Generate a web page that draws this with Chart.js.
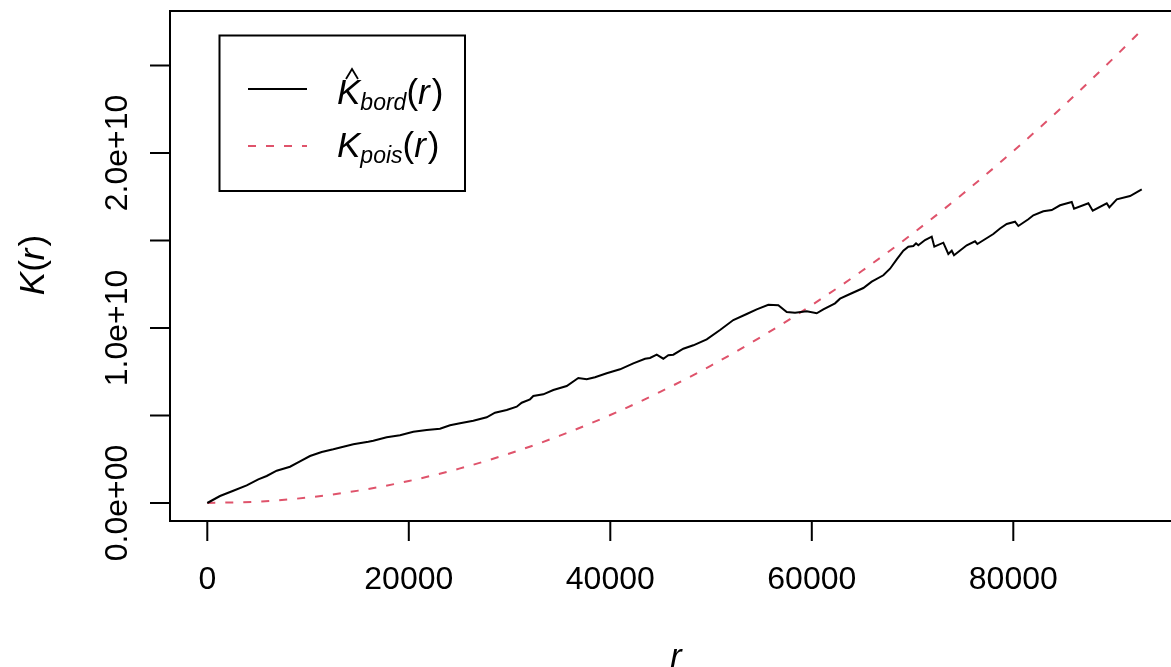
<!DOCTYPE html>
<html>
<head>
<meta charset="utf-8">
<script src="https://cdn.jsdelivr.net/npm/chart.js@4/dist/chart.umd.min.js"></script>
<style>
  body { margin: 0; overflow: hidden; background: #fff; width: 1171px; height: 667px; }
  canvas { display: block; }
</style>
</head>
<body>
<canvas id="c" width="1190" height="667"></canvas>
<script>
// K-hat border estimate (r, K in units of 1e8)
const rBord = [0,1261,2581,3911,5062,5896,6889,8209,9201,10194,
  11355,12507,13499,14492,15981,16477,17807,19128,20448,21778,
  23098,24091,25083,26403,27733,28557,29718,30711,31207,32031,
  32359,33351,34344,35674,36825,37659,38483,39644,40965,42285,
  43446,43942,44607,45263,45759,46255,47248,48240,49571,50891,
  52211,53541,54533,55685,56677,57511,58335,59496,60489,61144,
  62306,62802,63795,65115,65948,67100,67765,68430,69085,69581,
  70078,70346,70574,71239,71904,72162,73055,73552,73889,74118,
  75378,76202,76430,78018,78683,79348,80172,80500,81492,81989,
  82981,83815,84639,85801,86029,87448,87885,89274,89533,90268,
  91587,92749];
const kBord = [0,4.0,7.03,10.11,13.54,15.43,18.46,20.74,23.83,26.86,
  29.14,30.68,32.17,33.54,35.03,35.60,37.54,38.68,40.74,41.71,
  42.46,44.40,45.54,47.03,48.97,51.60,53.14,55.03,57.31,59.25,
  61.14,62.11,64.57,66.85,71.43,70.68,71.83,74.11,76.40,79.82,
  82.45,82.85,84.74,82.45,84.40,84.74,88.17,90.11,93.54,98.85,
  104.57,108.0,110.68,113.31,112.97,109.14,108.74,109.54,108.40,110.68,
  114.11,116.74,119.42,122.85,126.45,130.11,133.88,139.25,144.17,146.45,
  146.85,148.39,147.25,150.28,152.17,146.45,148.74,142.28,144.17,141.54,
  147.25,149.54,148.0,153.71,156.85,159.42,160.74,158.28,162.11,164.40,
  166.68,167.42,170.11,171.99,168.17,171.25,167.02,171.25,168.96,173.54,
  175.42,179.25];

// Poisson reference curve (units of 1e8)
const rPois = [0,5000,10000,15000,20000,25000,30000,35000,40000,45000,
  50000,55000,60000,65000,70000,75000,80000,85000,90000,92749];
const kPois = [0,0.785,3.14,7.07,12.57,19.63,28.27,38.48,50.27,63.62,
  78.54,95.03,113.1,132.7,153.9,176.7,201.1,227.0,254.5,270.3];

const xTicks = [0,20000,40000,60000,80000];
const xTickLabels = ['0','20000','40000','60000','80000'];
const yTicks = [0,5e9,1e10,1.5e10,2e10,2.5e10];
const yTickLabels = ['0.0e+00','','1.0e+10','','2.0e+10',''];

const RED = '#DF536B';
const FONT = '"Liberation Sans", Arial, sans-serif';

function toPoints(xs, ys) {
  return xs.map((x, i) => ({x: x, y: ys[i] * 1e8}));
}

// draws a run of text pieces (italic / sub) starting at x, returns end x
function drawPieces(ctx, x, y, pieces) {
  pieces.forEach(p => {
    ctx.font = (p.it ? 'italic ' : '') + p.size + 'px ' + FONT;
    ctx.fillText(p.t, x, y + (p.dy || 0));
    x += ctx.measureText(p.t).width + (p.gap || 0);
  });
  return x;
}

function piecesWidth(ctx, pieces) {
  let w = 0;
  pieces.forEach(p => {
    ctx.font = (p.it ? 'italic ' : '') + p.size + 'px ' + FONT;
    w += ctx.measureText(p.t).width + (p.gap || 0);
  });
  return w;
}

const baseAxes = {
  id: 'baseAxes',
  afterDraw(chart) {
    const ctx = chart.ctx;
    const a = chart.chartArea;
    const xs = chart.scales.x, ys = chart.scales.y;
    ctx.save();
    ctx.strokeStyle = '#000';
    ctx.fillStyle = '#000';
    ctx.lineWidth = 2;
    ctx.setLineDash([]);
    ctx.strokeRect(a.left, a.top, a.right - a.left, a.bottom - a.top);

    // x axis
    ctx.beginPath();
    ctx.moveTo(xs.getPixelForValue(xTicks[0]), a.bottom);
    ctx.lineTo(xs.getPixelForValue(xTicks[xTicks.length - 1]), a.bottom);
    xTicks.forEach(v => {
      const px = xs.getPixelForValue(v);
      ctx.moveTo(px, a.bottom);
      ctx.lineTo(px, a.bottom + 20);
    });
    ctx.stroke();
    ctx.font = '32px ' + FONT;
    ctx.textAlign = 'center';
    ctx.textBaseline = 'middle';
    xTicks.forEach((v, i) => {
      ctx.fillText(xTickLabels[i], xs.getPixelForValue(v), a.bottom + 59);
    });

    // y axis
    ctx.beginPath();
    ctx.moveTo(a.left, ys.getPixelForValue(yTicks[0]));
    ctx.lineTo(a.left, ys.getPixelForValue(yTicks[yTicks.length - 1]));
    yTicks.forEach(v => {
      const py = ys.getPixelForValue(v);
      ctx.moveTo(a.left - 20, py);
      ctx.lineTo(a.left, py);
    });
    ctx.stroke();
    yTicks.forEach((v, i) => {
      if (!yTickLabels[i]) return;
      ctx.save();
      ctx.translate(a.left - 52, ys.getPixelForValue(v));
      ctx.rotate(-Math.PI / 2);
      ctx.fillText(yTickLabels[i], 0, 0);
      ctx.restore();
    });

    // axis titles
    ctx.textAlign = 'left';
    ctx.textBaseline = 'alphabetic';
    const xt = [{t: 'r', it: true, size: 34}];
    drawPieces(ctx, 676 - piecesWidth(ctx, xt) / 2, 667, xt);
    const yt = [{t: 'K', it: true, size: 35}, {t: '(', size: 35}, {t: 'r', it: true, size: 35, gap: 2}, {t: ')', size: 35}];
    ctx.save();
    ctx.translate(44, 265);
    ctx.rotate(-Math.PI / 2);
    drawPieces(ctx, -piecesWidth(ctx, yt) / 2, 0, yt);
    ctx.restore();

    // legend
    ctx.lineWidth = 2;
    ctx.strokeRect(219.5, 35.5, 245.5, 155.5);
    ctx.beginPath();
    ctx.moveTo(248, 89);
    ctx.lineTo(307, 89);
    ctx.stroke();
    ctx.strokeStyle = RED;
    ctx.setLineDash([8, 10]);
    ctx.beginPath();
    ctx.moveTo(248, 146);
    ctx.lineTo(307, 146);
    ctx.stroke();
    ctx.setLineDash([]);
    ctx.strokeStyle = '#000';

    drawPieces(ctx, 337, 104, [
      {t: 'K', it: true, size: 35},
      {t: 'bord', it: true, size: 23, dy: 6},
      {t: '(', size: 35},
      {t: 'r', it: true, size: 35, gap: 2},
      {t: ')', size: 35}
    ]);
    // hat over K
    ctx.lineWidth = 1.8;
    ctx.beginPath();
    ctx.moveTo(346, 79);
    ctx.lineTo(352, 69);
    ctx.lineTo(358, 79);
    ctx.stroke();

    drawPieces(ctx, 337, 157, [
      {t: 'K', it: true, size: 35},
      {t: 'pois', it: true, size: 23, dy: 6},
      {t: '(', size: 35},
      {t: 'r', it: true, size: 35, gap: 2},
      {t: ')', size: 35}
    ]);
    ctx.restore();
  }
};

new Chart(document.getElementById('c'), {
  type: 'line',
  data: {
    datasets: [
      {
        label: 'Kbord',
        data: toPoints(rBord, kBord),
        borderColor: '#000',
        borderWidth: 2,
        pointRadius: 0,
        tension: 0
      },
      {
        label: 'Kpois',
        data: toPoints(rPois, kPois),
        borderColor: RED,
        borderWidth: 2,
        borderDash: [8, 10],
        pointRadius: 0,
        cubicInterpolationMode: 'monotone'
      }
    ]
  },
  options: {
    responsive: false,
    devicePixelRatio: 1,
    animation: false,
    layout: { padding: { left: 170, right: 10.4, top: 11, bottom: 146 } },
    plugins: { legend: { display: false }, tooltip: { enabled: false } },
    scales: {
      x: { type: 'linear', display: false, min: -3702, max: 96506 },
      y: { type: 'linear', display: false, min: -1.0286e9, max: 2.8114e10 }
    }
  },
  plugins: [baseAxes]
});
</script>
</body>
</html>
